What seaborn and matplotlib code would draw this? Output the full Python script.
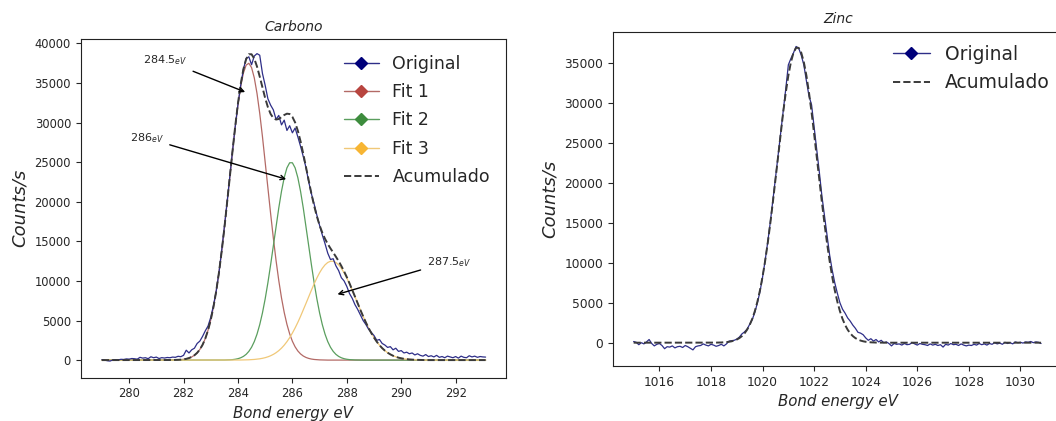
import numpy as np
import pandas as pd
import matplotlib
matplotlib.use("Agg")
import matplotlib.pyplot as plt
import seaborn as sns
from matplotlib.lines import Line2D

sns.set_style("ticks")
plt.rcParams["font.family"] = ["DejaVu Sans"]

# ---------------- Carbono (C 1s) ----------------
carbon_energy = np.round(np.arange(279.0, 293.1 + 1e-9, 0.1), 1)

carbon_original = [
    50, 0, -80, -120, 20, 60, 30, 100, 80, 150,
    120, 200, 170, 120, 350, 250, 300, 180, 420, 300,
    380, 200, 310, 260, 330, 300, 380, 350, 480, 430,
    600, 1250, 900, 1300, 1500, 2100, 2400, 3000, 3700, 4300,
    5400, 6900, 8700, 11000, 13800, 16800, 19900, 23200, 26400, 29500,
    32300, 34700, 36700, 38100, 38300, 37300, 38400, 38700, 38500, 36200,
    34700, 33000, 32200, 31600, 30400, 30900, 29700, 30300, 29000, 29600,
    28700, 29300, 28200, 27000, 25700, 24300, 22500, 21000, 19700, 18300,
    17000, 15800, 14700, 13500, 12700, 12800, 11900, 11300, 10400, 10000,
    9300, 8400, 7800, 7000, 6400, 5700, 5000, 4500, 3900, 3500,
    3100, 2500, 2600, 2100, 1900, 1600, 1700, 1300, 1500, 1100,
    1200, 900, 1000, 800, 900, 650, 800, 600, 500, 700,
    450, 550, 400, 600, 350, 450, 300, 500, 400, 300,
    450, 250, 500, 350, 300, 550, 400, 500, 350, 450,
    400, 380,
]

carbon_fit1 = [0] * 26 + [
    11, 20, 35, 59, 98, 160, 255, 399, 611, 916,
    1346, 1936, 2725, 3761, 5075, 6712, 8689, 11018, 13676, 16628,
    19796, 23074, 26340, 29441, 32224, 34538, 36248, 37249, 37484, 36938,
    35640, 33675, 31159, 28230, 25046, 21758, 18506, 15416, 12574, 10043,
    7856, 6015, 4511, 3315, 2381, 1676, 1155, 781, 516, 335,
    212, 132, 80, 48, 28, 16, 9,
] + [0] * 59

carbon_fit2 = [0] * 45 + [
    10, 19, 35, 61, 106, 178, 292, 466, 725, 1099,
    1623, 2335, 3276, 4476, 5959, 7729, 9768, 12028, 14430, 16868,
    19211, 21318, 23048, 24279, 24919, 24919, 24279, 23048, 21318, 19211,
    16868, 14430, 12028, 9768, 7729, 5959, 4476, 3276, 2335, 1623,
    1099, 725, 466, 292, 178, 106, 61, 35, 19, 10,
] + [0] * 47

carbon_fit3 = [0] * 51 + [
    12, 18, 27, 40, 58, 83, 117, 164, 226, 307,
    414, 549, 721, 934, 1195, 1511, 1887, 2329, 2837, 3414,
    4058, 4764, 5526, 6329, 7161, 8003, 8833, 9630, 10371, 11031,
    11590, 12027, 12328, 12481, 12481, 12328, 12027, 11590, 11031, 10371,
    9630, 8833, 8003, 7161, 6329, 5526, 4764, 4058, 3414, 2837,
    2329, 1887, 1511, 1195, 934, 721, 549, 414, 307, 226,
    164, 117, 83, 58, 40, 27, 18, 12,
] + [0] * 23

carbon_total = [0] * 26 + [
    11, 20, 35, 59, 98, 160, 255, 399, 611, 916,
    1346, 1936, 2725, 3761, 5075, 6712, 8689, 11018, 13676,
    16638, 19815, 23109, 26401, 29547, 32402, 34842, 36732, 38001, 38623,
    38619, 38058, 37068, 35799, 34415, 33082, 31940, 31083, 30567, 30376,
    30449, 30685, 30950, 31119, 31071, 30714, 30013, 28967, 27625, 26056,
    24364, 22645, 20993, 19478, 18148, 17018, 16082, 15312, 14663, 14104,
    13580, 13053, 12493, 11882, 11209, 10477, 9691, 8868, 8022, 7171,
    6329, 5526, 4764, 4058, 3414, 2837, 2329, 1887, 1511, 1195,
    934, 721, 549, 414, 307, 226, 164, 117, 83, 58, 40, 27, 18, 12,
] + [0] * 23

carbon_peaks = ["284.5", "286", "287.5"]

# ---------------- Zinc (Zn 2p) ----------------
zinc_energy = np.round(np.arange(1015.0, 1030.8 + 1e-9, 0.1), 1)

zinc_original = [
    150, 50, -250, 0, -150, 100, 400, -100, -400, -200,
    -100, -350, -750, -500, -550, -400, -650, -500, -450, -600,
    -350, -500, -700, -900, -500, -400, -350, -150, -300, -400,
    -200, -300, -450, -350, -200, -400, -150, 200, 250, 300,
    450, 700, 1100, 1350, 1700, 2300, 2900, 3800, 5000, 6400,
    8200, 10300, 12600, 15100, 17800, 20600, 23400, 26300, 29000, 31800,
    34800, 35600, 36300, 37100, 36900, 36000, 34800, 32800, 30900, 29800,
    27000, 24200, 21400, 18400, 15900, 13300, 11000, 9100, 7500, 6200,
    5000, 4200, 3700, 3100, 2700, 2200, 1800, 1300, 1200, 1000,
    600, 300, 500, 200, 400, 100, 300, 0, 100, -100,
    -400, -100, -200, -150, -300, -100, -250, -200, 0, -150,
    -300, -100, -200, -250, -350, -150, -300, -200, -350, -250,
    -550, -200, -300, -100, -250, -200, -350, -150, -300, -400,
    -300, -350, -200, -300, -100, -250, -150, -300, -100, -200,
    0, -150, -50, -200, 50, -100, 0, -150, 100, 0,
    50, -50, 100, 50, 150, 0, 100, 50, -100,
]

zinc_total = [0] * 32 + [
    11, 18, 29, 47, 74, 115, 177, 266, 395, 577,
    828, 1170, 1626, 2222, 2987, 3949, 5137, 6573, 8274, 10245,
    12479, 14952, 17623, 20433, 23304, 26146, 28856, 31328, 33457, 35148,
    36322, 36924, 36924, 36322, 35148, 33457, 31328, 28856, 26146, 23304,
    20433, 17623, 14952, 12479, 10245, 8274, 6573, 5137, 3949, 2987,
    2222, 1626, 1170, 828, 577, 395, 266, 177, 115, 74,
    47, 29, 18, 11,
] + [0] * 63

for arr in (carbon_original, carbon_fit1, carbon_fit2, carbon_fit3, carbon_total):
    assert len(arr) == len(carbon_energy), len(arr)
for arr in (zinc_original, zinc_total):
    assert len(arr) == len(zinc_energy), len(arr)

carbon_df = pd.DataFrame({
    "E": carbon_energy, "Original": carbon_original, "Fit 1": carbon_fit1,
    "Fit 2": carbon_fit2, "Fit 3": carbon_fit3, "Acumulado": carbon_total,
})
zinc_df = pd.DataFrame({"E": zinc_energy, "Original": zinc_original, "Acumulado": zinc_total})

# ---------------- styles ----------------
line_col = {"Original": "#2e2e88", "Fit 1": "#b36a66", "Fit 2": "#5a9e5e",
            "Fit 3": "#f0c878", "Acumulado": "#3a3a3a"}
marker_col = {"Original": "#00007a", "Fit 1": "#b8453f", "Fit 2": "#3d8c3d", "Fit 3": "#f7b533"}

fig = plt.figure(figsize=(10.56, 4.21), dpi=100)
ax1 = fig.add_axes([0.0764, 0.1029, 0.4025, 0.8045])
ax2 = fig.add_axes([0.5805, 0.1306, 0.4261, 0.7941])

# Carbono
for name in ["Fit 1", "Fit 2", "Fit 3"]:
    sns.lineplot(data=carbon_df, x="E", y=name, ax=ax1, color=line_col[name],
                 lw=0.9, estimator=None, sort=False, legend=False)
sns.lineplot(data=carbon_df, x="E", y="Original", ax=ax1, color=line_col["Original"],
             lw=0.9, estimator=None, sort=False, legend=False)
sns.lineplot(data=carbon_df, x="E", y="Acumulado", ax=ax1, color=line_col["Acumulado"],
             lw=1.4, ls="--", estimator=None, sort=False, legend=False)

ax1.set_xlim(278.22, 293.84)
ax1.set_ylim(-2220, 40550)
ax1.set_xticks([280, 282, 284, 286, 288, 290, 292])
ax1.set_yticks(np.arange(0, 40001, 5000))

ann_style = dict(arrowstyle="->", color="black", lw=1.0)
ax1.annotate(r"$%s_{eV}$" % carbon_peaks[0], xy=(284.36, 33720), xytext=(280.5, 37890),
             fontsize=8, ha="left", va="center", arrowprops=ann_style)
ax1.annotate(r"$%s_{eV}$" % carbon_peaks[1], xy=(285.87, 22740), xytext=(280.03, 28040),
             fontsize=8, ha="left", va="center", arrowprops=ann_style)
ax1.annotate(r"$%s_{eV}$" % carbon_peaks[2], xy=(287.56, 8210), xytext=(290.93, 12420),
             fontsize=8, ha="left", va="center", arrowprops=ann_style)

# Zinc
sns.lineplot(data=zinc_df, x="E", y="Original", ax=ax2, color=line_col["Original"],
             lw=0.9, estimator=None, sort=False, legend=False)
sns.lineplot(data=zinc_df, x="E", y="Acumulado", ax=ax2, color=line_col["Acumulado"],
             lw=1.4, ls="--", estimator=None, sort=False, legend=False)
ax2.set_xlim(1014.2, 1031.65)
ax2.set_ylim(-2920, 38950)
ax2.set_xticks(np.arange(1016, 1031, 2))
ax2.set_yticks(np.arange(0, 35001, 5000))


def handle(name):
    if name == "Acumulado":
        return Line2D([0], [0], color=line_col[name], lw=1.4, ls="--")
    return Line2D([0], [0], color=line_col[name], lw=1.0, marker="D", markersize=6,
                  markerfacecolor=marker_col[name], markeredgecolor=marker_col[name])


names1 = ["Original", "Fit 1", "Fit 2", "Fit 3", "Acumulado"]
ax1.legend([handle(n) for n in names1], names1, loc="upper right", frameon=False,
           fontsize=12.5, labelspacing=0.6)
names2 = ["Original", "Acumulado"]
ax2.legend([handle(n) for n in names2], names2, loc="upper right", frameon=False,
           fontsize=13.5, labelspacing=0.5, borderaxespad=0.3)

for ax, title, tsize in ((ax1, "Carbono", 8.3), (ax2, "Zinc", 8.8)):
    ax.set_title(title, fontsize=10, style="italic")
    ax.set_xlabel("Bond energy eV", fontsize=10.8, style="italic")
    ax.set_ylabel("Counts/s", fontsize=13, style="italic")
    ax.tick_params(labelsize=tsize, length=3.5, width=0.8)
    for sp in ax.spines.values():
        sp.set_visible(True)
        sp.set_linewidth(0.8)
        sp.set_color("#222222")

fig.savefig("out.png", dpi=100)
